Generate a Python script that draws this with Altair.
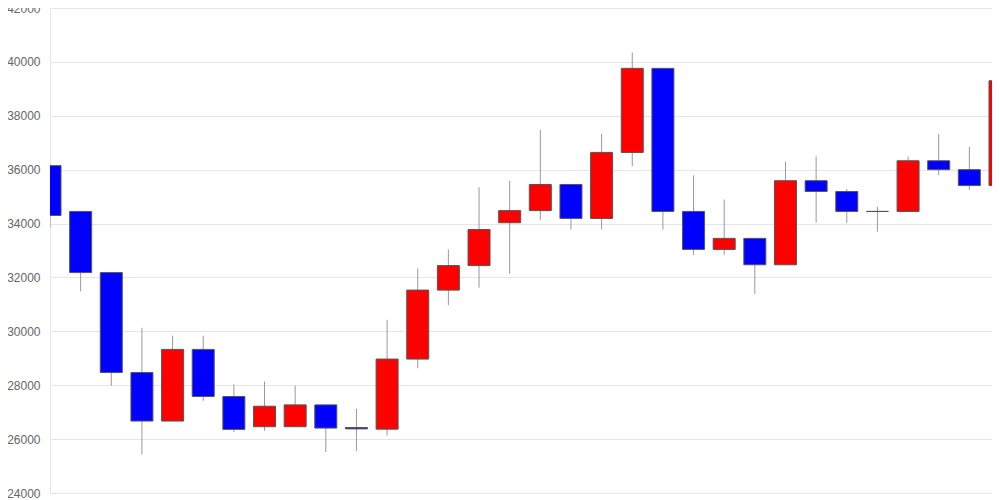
import altair as alt
import pandas as pd

idx = list(range(32))
opens = [36150, 34450, 32180, 28470, 26670, 29330, 27580, 26460, 26460, 27270,
         26430, 26370, 28970, 31530, 32440, 34030, 34480, 35450, 34190, 36640,
         39760, 34450, 33040, 33450, 32470, 35590, 35190, 34450, 34450, 36330,
         36000, 35410]
highs = [36180, 34450, 32180, 30130, 29840, 29840, 28030, 28140, 27980, 27270,
         27130, 30430, 32330, 33040, 35350, 35590, 37480, 35450, 37330, 40350,
         39760, 35790, 34890, 33450, 36300, 36490, 35280, 34630, 36490, 37330,
         36850, 39300]
lows = [33840, 31480, 27980, 25430, 26670, 27420, 26260, 26310, 26460, 25520,
        25560, 26130, 28630, 30970, 31620, 32140, 34140, 33780, 33780, 36130,
        33780, 32840, 32840, 31380, 32470, 34030, 34030, 33690, 34450, 35800,
        35250, 35330]
closes = [34300, 32180, 28470, 26670, 29330, 27580, 26360, 27220, 27270, 26410,
          26380, 28970, 31530, 32440, 33780, 34480, 35450, 34190, 36640, 39760,
          34450, 33040, 33450, 32470, 35590, 35190, 34450, 34450, 36330, 36000,
          35410, 39300]

df = pd.DataFrame({"i": idx, "open": opens, "high": highs, "low": lows, "close": closes})
df["dir"] = ["up" if c > o else "down" for o, c in zip(opens, closes)]

xenc = alt.X("i:Q", scale=alt.Scale(domain=[0, 31], range=[0, 950], padding=0,
                                    nice=False, zero=False),
             axis=None)
yscale = alt.Scale(domain=[24000, 42000], nice=False, zero=False)

wicks = alt.Chart(df).mark_rule(color="#999999", strokeWidth=1, clip=True).encode(
    x=xenc,
    y=alt.Y("low:Q", scale=yscale,
            axis=alt.Axis(values=list(range(24000, 42001, 2000)), ticks=False,
                          labelPadding=10, labelColor="#666666", labelFontSize=12,
                          labelFont="Liberation Sans", gridColor="#e6e6e6",
                          domainColor="#e6e6e6", title=None, format="d")),
    y2="high:Q",
)

bodies = alt.Chart(df).mark_bar(size=22, stroke="#555555", strokeWidth=1, clip=True).encode(
    x=xenc,
    y=alt.Y("open:Q", scale=yscale),
    y2="close:Q",
    color=alt.Color("dir:N", scale=alt.Scale(domain=["up", "down"], range=["#ff0000", "#0000ff"]),
                    legend=None),
)

chart = alt.layer(wicks, bodies).properties(
    width=942, height=485,
    autosize=alt.AutoSizeParams(type="none"),
    padding={"left": 42, "top": 0, "right": 0, "bottom": 7},
).configure_view(stroke=None).configure(background="white")

chart.save("out.html", embed_options={"renderer": "svg", "actions": False})
